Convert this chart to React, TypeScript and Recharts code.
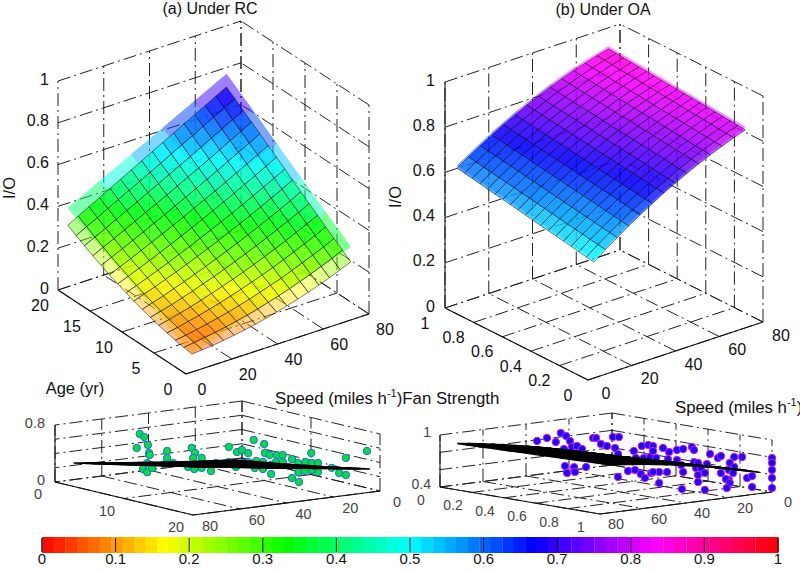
import React from 'react';
import { ScatterChart, Scatter, XAxis, YAxis, BarChart, Bar, Cell, ReferenceLine, ReferenceArea } from 'recharts';

// surface (a): speed / age grid, I/O
const speedA = [2.6, 7.2, 11.9, 16.5, 21.1, 25.7, 30.4, 35, 39.6, 44.2, 48.9, 53.5, 58.1, 62.7, 67.4, 72];
const ageA = [0, 1.3, 2.6, 3.9, 5.2, 6.5, 7.8, 9.1, 10.3, 11.6, 12.9, 14.2, 15.5, 16.8, 18.1, 19.4];
const ioA = [
    [.086, .090, .095, .102, .110, .119, .129, .141, .154, .168, .183, .199, .217, .236, .257, .278],
    [.092, .099, .106, .115, .124, .135, .147, .160, .175, .190, .207, .225, .244, .264, .285, .308],
    [.100, .108, .118, .128, .140, .152, .166, .181, .197, .214, .231, .251, .271, .292, .314, .338],
    [.109, .119, .131, .143, .156, .170, .186, .202, .219, .237, .256, .277, .298, .320, .343, .367],
    [.119, .131, .144, .158, .173, .189, .206, .223, .242, .261, .282, .303, .325, .348, .372, .397],
    [.131, .145, .159, .175, .191, .209, .227, .246, .266, .286, .308, .330, .353, .377, .401, .427],
    [.143, .159, .175, .193, .210, .229, .249, .269, .290, .311, .334, .357, .381, .405, .431, .457],
    [.157, .175, .192, .211, .230, .250, .271, .292, .314, .337, .360, .384, .409, .434, .460, .487],
    [.172, .191, .211, .231, .251, .273, .294, .317, .340, .363, .387, .412, .437, .463, .489, .516],
    [.189, .209, .230, .251, .273, .295, .318, .342, .365, .390, .415, .440, .466, .492, .519, .546],
    [.206, .228, .250, .273, .296, .319, .343, .367, .392, .417, .442, .468, .495, .521, .548, .576],
    [.225, .248, .272, .295, .319, .344, .368, .394, .419, .445, .471, .497, .524, .551, .578, .606],
    [.245, .270, .294, .319, .344, .369, .395, .420, .446, .473, .499, .526, .553, .580, .608, .636],
    [.267, .292, .317, .343, .369, .395, .422, .448, .475, .501, .528, .555, .583, .610, .638, .665],
    [.289, .316, .342, .369, .396, .423, .449, .476, .503, .531, .558, .585, .613, .640, .668, .695],
    [.313, .340, .368, .395, .423, .450, .478, .505, .533, .560, .588, .615, .643, .670, .698, .725],
];

// the lighter unmeshed sheet lying just above (a)
const speedUpperA = [2.6, 16.5, 30.4, 44.2, 58.1, 72];
const ageUpperA = [0, 3.9, 7.8, 11.6, 15.5, 19.4];
const ioUpperA = [
    [.086, .139, .192, .244, .297, .350],
    [.148, .206, .264, .322, .379, .437],
    [.210, .273, .336, .399, .462, .525],
    [.271, .340, .408, .476, .544, .612],
    [.333, .407, .480, .553, .626, .700],
    [.395, .474, .552, .630, .709, .787],
];

// surface (b): one row per speed, one column per fan strength
const speedB = [2.7, 8, 13.4, 18.7, 24, 29.4, 34.7, 40, 45.3, 50.7, 56, 61.3, 66.7, 72];
const fanB = [0, .053, .106, .16, .213, .266, .319, .373, .426, .479, .532, .585, .639, .692, .745, .798, .852, .905, .958];
const ioB = [
    [.513, .519, .525, .532, .538, .544, .550, .556, .562, .569, .575, .581, .587, .593, .599, .606, .612, .618, .624],
    [.551, .557, .563, .569, .575, .580, .586, .592, .598, .604, .610, .616, .622, .628, .633, .639, .645, .651, .657],
    [.587, .593, .598, .604, .610, .615, .621, .627, .632, .638, .644, .649, .655, .661, .666, .672, .678, .683, .689],
    [.622, .627, .633, .638, .644, .649, .654, .660, .665, .671, .676, .681, .687, .692, .698, .703, .708, .714, .719],
    [.655, .660, .665, .671, .676, .681, .686, .691, .696, .702, .707, .712, .717, .722, .727, .733, .738, .743, .748],
    [.686, .691, .696, .701, .706, .710, .715, .720, .725, .730, .735, .740, .745, .750, .754, .759, .764, .769, .774],
    [.716, .721, .725, .730, .735, .739, .744, .749, .753, .758, .763, .767, .772, .777, .781, .786, .791, .795, .800],
    [.743, .747, .752, .756, .761, .765, .770, .774, .778, .783, .787, .792, .796, .801, .805, .810, .814, .819, .823],
    [.769, .773, .777, .782, .786, .790, .794, .799, .803, .807, .811, .815, .820, .824, .828, .832, .837, .841, .845],
    [.794, .798, .802, .806, .810, .814, .818, .822, .826, .830, .833, .837, .841, .845, .849, .853, .857, .861, .865],
    [.817, .821, .824, .828, .832, .836, .839, .843, .847, .850, .854, .858, .862, .865, .869, .873, .877, .880, .884],
    [.838, .841, .845, .848, .852, .855, .859, .862, .865, .869, .872, .876, .879, .883, .886, .890, .893, .897, .900],
    [.858, .861, .864, .868, .871, .874, .877, .881, .884, .887, .890, .893, .897, .900, .903, .906, .910, .913, .916],
    [.876, .879, .882, .885, .888, .891, .894, .897, .900, .902, .905, .908, .911, .914, .917, .920, .923, .926, .929],
];

// thin fringe sheet above (b)
const speedUpperB = [2.7, 18.7, 29.4, 45.3, 56, 72];
const fanUpperB = [0, .479, .958];
const ioUpperB = [
    [.525, .581, .636],
    [.634, .683, .731],
    [.698, .742, .786],
    [.781, .819, .857],
    [.829, .862, .896],
    [.888, .914, .941],
];

// measured points [speed, age, I/O]
const pointsRC = [
    [59.1, 5.2, .707], [58.1, 5.5, .667], [59.8, 5, .509], [57.1, 5.7, .556], [56.9, 5.8, .444], [56.6, 5.8, .415],
    [52.4, 6.9, .479], [52.4, 6.9, .38], [57.4, 5.7, .302], [58.3, 5.4, .216], [57.4, 5.7, .175], [56.1, 6, .234],
    [53, 6.8, .295], [51, 7.3, .313], [46.3, 8.4, .531], [45.5, 8.6, .462], [46, 8.5, .39], [43.8, 9, .394],
    [45.8, 8.6, .237], [43.8, 9, .254], [47.3, 8.2, .262], [41.6, 9.6, .215], [40.4, 9.9, .33], [37.2, 10.7, .559],
    [35.2, 11.2, .491], [34, 11.5, .522], [32.5, 11.9, .481], [37.2, 10.7, .348], [35.4, 11.1, .281], [32.5, 11.9, .355],
    [33.8, 11.6, .34], [31, 12.2, .667], [28.6, 12.9, .615], [28.3, 12.9, .488], [27.1, 13.2, .463], [25.4, 13.7, .465],
    [23.9, 14, .467], [30.5, 12.4, .373], [28.8, 12.8, .362], [25.6, 13.6, .366], [23.9, 14, .369], [21.7, 14.6, .415],
    [17, 15.8, .507], [18.2, 15.4, .378], [16.7, 15.8, .366], [15.3, 16.2, .369], [8.4, 17.9, .451], [3.2, 19.2, .556],
    [30.8, 12.3, .274], [28.8, 12.8, .264], [26.8, 13.3, .323], [26.8, 13.3, .196], [21.7, 14.6, .149], [19.9, 15, .095],
    [20.2, 15, .234], [18.5, 15.4, .251], [15.3, 16.2, .243], [11.8, 17, .305], [10.1, 17.5, .237], [8.4, 17.9, .212],
    [20.2, 15, .361], [16.7, 15.8, .268],
];

// measured points [speed, fan strength, I/O]
const pointsOA = [
    [56.6, .292, .948], [54.2, .322, .984], [52.1, .349, .939], [50.9, .364, 1.044], [49.6, .38, 1.01], [48.7, .392, .953],
    [50.1, .373, .86], [48.2, .398, .885], [47, .413, .897], [45.8, .428, .863], [43.1, .461, .992], [42.4, .47, .993],
    [41.2, .485, .924], [39.8, .503, .902], [38.3, .521, 1.007], [36.9, .539, 1.008], [37.8, .527, .88], [37.1, .536, .812],
    [33.3, .584, .849], [31.4, .608, .908], [29.8, .627, .92], [28.7, .642, .91], [32.8, .59, .769], [30.9, .614, .77],
    [29.4, .633, .783], [49.9, .377, .664], [47.7, .404, .653], [49.4, .383, .583], [47.5, .407, .596], [44.8, .44, .656],
    [37.1, .536, .547], [41.7, .479, .774], [34.7, .566, .617], [33, .587, .63], [31.6, .605, .585], [30.6, .617, .54],
    [29.1, .636, .598], [28.7, .642, .852], [26.3, .672, .889], [24.8, .69, .844], [22.9, .714, .869], [21.4, .732, .881],
    [19.3, .759, .905], [18.8, .765, .871], [14.9, .813, .828], [13, .837, .783], [12.3, .846, .806], [9.1, .886, .797],
    [7.2, .91, .799], [25.1, .687, .762], [22.9, .714, .753], [27.9, .651, .773], [21.9, .726, .695], [21.4, .732, .616],
    [25.3, .684, .612], [27.2, .66, .611], [28.7, .642, .61], [18.8, .765, .732], [17.8, .777, .722], [15.7, .804, .712],
    [18.3, .771, .664], [17.1, .786, .664], [16.2, .798, .608], [17.8, .777, .583], [17.8, .777, .503], [10.2, .873, .728],
    [9.1, .886, .682], [10.4, .87, .647], [12.3, .846, .61], [9.4, .883, .612], [10.4, .87, .532], [11.1, .861, .542],
    [10.2, .873, .497], [6, .925, .557], [4.8, .94, .581], [0, 1, .792], [0, 1, .735], [0, 1, .654], [0, 1, .562], [0, 1, .446],
    [27.2, .66, .484], [21.7, .729, .418], [16.2, .798, .412], [10.9, .864, .438], [4.8, .94, .454],
];

const speedTicks = [0, 20, 40, 60, 80];
const ageTicks = [0, 5, 10, 15, 20];
const ageTicksSide = [0, 10, 20];
const fanTicks = [0, 0.2, 0.4, 0.6, 0.8, 1];
const ioTicks = [0, 0.2, 0.4, 0.6, 0.8, 1];
const ioTicksRC = [0, 0.2, 0.4, 0.6, 0.8];
const ioTicksOA = [0.4, 0.6, 0.8, 1];
const barLevels = [
    .008, .023, .039, .055, .070, .086, .102, .117, .133, .148, .164, .180, .195, .211, .227, .242,
    .258, .273, .289, .305, .320, .336, .352, .367, .383, .398, .414, .430, .445, .461, .477, .492,
    .508, .523, .539, .555, .570, .586, .602, .617, .633, .648, .664, .680, .695, .711, .727, .742,
    .758, .773, .789, .805, .820, .836, .852, .867, .883, .898, .914, .930, .945, .961, .977, .992,
];
const barTicks = [0, 0.1, 0.2, 0.3, 0.4, 0.5, 0.6, 0.7, 0.8, 0.9, 1];

const FONT = '"Liberation Sans", Arial, sans-serif';
const hsv = (v: number) => `hsl(${Math.max(0, Math.min(1, v)) * 360},100%,50%)`;

// the views, oblique projections fitted to the box corners
const boxA = { ox: 186, oy: 374, sx: 183, sy: -60, ax: -128, ay: -84, zy: -209, aMax: 20, zMin: 0, zMax: 1, sWall: 80, aWall: 20, sFront: 0, aFront: 0 };
const boxB = { ox: 588, oy: 380, sx: 175, sy: -58, ax: -143, ay: -72, zy: -226, aMax: 1, zMin: 0, zMax: 1, sWall: 80, aWall: 1, sFront: 0, aFront: 0 };
const boxC = { ox: 242, oy: 458, sx: -187, sy: 24, ax: 138, ay: 33, zy: -57, aMax: 20, zMin: 0, zMax: 0.8, sWall: 0, aWall: 0, sFront: 80, aFront: 20 };
const boxD = { ox: 612, oy: 465, sx: -172, sy: 22, ax: 160, ay: 27, zy: -52, aMax: 1, zMin: 0.4, zMax: 1, sWall: 0, aWall: 0, sFront: 80, aFront: 1 };
// the surface sits flatter than the box in the side view of (a)
const boxCSurface = { ...boxC, oy: 461.7, sy: 8.5, ay: 14.6, zy: -18.2 };

const project = (b: any, s: number, a: number, z: number) => ({
    x: b.ox + (s / 80) * b.sx + (a / b.aMax) * b.ax,
    y: b.oy + (s / 80) * b.sy + (a / b.aMax) * b.ay + ((z - b.zMin) / (b.zMax - b.zMin)) * b.zy,
});

const noShape = () => null;

// pairs of points become separate line pieces
const segmentLayer = (key: string, segs: any[], style: any) => (
    <Scatter
        key={key}
        data={segs}
        isAnimationActive={false}
        shape={noShape}
        line={(p: any) => {
            let d = '';
            for (let i = 0; i + 1 < p.points.length; i += 2) {
                d += `M${p.points[i].x},${p.points[i].y}L${p.points[i + 1].x},${p.points[i + 1].y}`;
            }
            return <path key={key} d={d} fill="none" {...style} />;
        }}
    />
);

const boxLayers = (key: string, b: any, sT: number[], aT: number[], zT: number[], solidZ: boolean) => {
    const P = (s: number, a: number, z: number) => project(b, s, a, z);
    const grid: any[] = [];
    const solid: any[] = [];
    sT.forEach(s => {
        grid.push(P(s, 0, b.zMin), P(s, b.aMax, b.zMin));
        grid.push(P(s, b.aWall, b.zMin), P(s, b.aWall, b.zMax));
    });
    aT.forEach(a => {
        grid.push(P(0, a, b.zMin), P(80, a, b.zMin));
        grid.push(P(b.sWall, a, b.zMin), P(b.sWall, a, b.zMax));
    });
    zT.forEach(z => {
        grid.push(P(0, b.aWall, z), P(80, b.aWall, z));
        grid.push(P(b.sWall, 0, z), P(b.sWall, b.aMax, z));
    });
    solid.push(P(0, b.aFront, b.zMin), P(80, b.aFront, b.zMin));
    solid.push(P(b.sFront, 0, b.zMin), P(b.sFront, b.aMax, b.zMin));
    if (solidZ) solid.push(P(b.sFront, b.aWall, b.zMin), P(b.sFront, b.aWall, b.zMax));
    return [
        segmentLayer(key + '-grid', grid, { stroke: '#222', strokeWidth: 1, strokeDasharray: '13 4 2 4' }),
        segmentLayer(key + '-solid', solid, { stroke: '#111', strokeWidth: 1.1 }),
    ];
};

const surfaceLayer = (key: string, b: any, speeds: number[], ages: number[], io: (j: number, i: number) => number, look: any) => {
    const data = ages.flatMap((a, j) => speeds.map((s, i) => project(b, s, a, io(j, i))));
    const nc = speeds.length;
    const gain = look.gain ?? 1;
    const shift = look.shift ?? 0;
    return (
        <Scatter
            key={key}
            data={data}
            isAnimationActive={false}
            shape={noShape}
            line={(p: any) => {
                const cells = [];
                for (let j = 0; j + 1 < ages.length; j++) {
                    for (let i = 0; i + 1 < nc; i++) {
                        const c = [j * nc + i, j * nc + i + 1, (j + 1) * nc + i + 1, (j + 1) * nc + i].map(k => p.points[k]);
                        const v = (io(j, i) + io(j, i + 1) + io(j + 1, i) + io(j + 1, i + 1)) / 4;
                        const colour = hsv(v * gain + shift);
                        const edge = i === 0 || j === 0;
                        cells.push(
                            <polygon
                                key={`${j}-${i}`}
                                points={c.map(q => `${q.x},${q.y}`).join(' ')}
                                fill={colour}
                                fillOpacity={edge ? look.edgeOpacity : look.opacity}
                                stroke={look.stroke ?? colour}
                                strokeOpacity={look.stroke ? look.strokeOpacity : look.opacity}
                                strokeWidth={look.strokeWidth}
                            />
                        );
                    }
                }
                return <g key={key}>{cells}</g>;
            }}
        />
    );
};

const dotLayer = (key: string, b: any, pts: number[][], fill: string, stroke: string) => (
    <Scatter
        key={key}
        data={pts.map(([s, a, z]) => project(b, s, a, z))}
        isAnimationActive={false}
        shape={(p: any) => <circle cx={p.cx} cy={p.cy} r={3.7} fill={fill} stroke={stroke} strokeWidth={1} />}
    />
);

const textShape = (p: any) => {
    const t = p.payload;
    return (
        <text
            x={p.cx}
            y={p.cy}
            textAnchor={t.anchor ?? 'middle'}
            dominantBaseline="central"
            fontFamily={FONT}
            fontSize={t.size ?? 16}
            fill={t.fill ?? '#111'}
            transform={t.rotate ? `rotate(${t.rotate} ${p.cx} ${p.cy})` : undefined}
        >
            {t.text}
            {t.sup ? <tspan fontSize={11} dy={-5}>{t.sup}</tspan> : null}
            {t.after ? <tspan dy={5}>{t.after}</tspan> : null}
        </text>
    );
};

const textLayer = (key: string, items: any[]) => (
    <Scatter key={key} data={items} isAnimationActive={false} shape={textShape} />
);

const zLabels = (b: any, vals: number[], x: number, dy: number, fill: string, size: number) =>
    vals.map(z => ({ x, y: project(b, b.sFront, b.aWall, z).y + dy, text: String(z), anchor: 'end', fill, size }));
const sLabels = (b: any, vals: number[], dx: number, dy: number, fill: string, size: number) =>
    vals.map(s => {
        const q = project(b, s, b.aFront, b.zMin);
        return { x: q.x + dx, y: q.y + dy, text: String(s), fill, size };
    });
const aLabels = (b: any, vals: number[], dx: number, dy: number, fill: string, size: number) =>
    vals.map(a => {
        const q = project(b, b.sFront, a, b.zMin);
        return { x: q.x + dx, y: q.y + dy, text: String(a), fill, size };
    });

const titles = [
    { x: 210, y: 8, text: '(a) Under RC' },
    { x: 603, y: 9, text: '(b) Under OA' },
    { x: 9, y: 188, text: 'I/O', rotate: -90, size: 16.5 },
    { x: 395, y: 197, text: 'I/O', rotate: -90, size: 16.5 },
    { x: 75, y: 388, text: 'Age (yr)', size: 16.5 },
    { x: 275, y: 398, text: 'Speed (miles h', anchor: 'start', sup: '-1', after: ')Fan Strength', size: 16.8 },
    { x: 675, y: 407, text: 'Speed (miles h', anchor: 'start', sup: '-1', after: ')', size: 16.8 },
];

const grey = '#444';
const meshLookA = { opacity: 0.78, edgeOpacity: 0.45, stroke: '#000', strokeOpacity: 0.6, strokeWidth: 0.8, gain: 1.02, shift: -0.038 };
const meshLookB = { opacity: 0.8, edgeOpacity: 0.68, stroke: '#000', strokeOpacity: 0.55, strokeWidth: 0.8, gain: 0.915, shift: 0.01 };
const sheetLookA = { opacity: 0.5, edgeOpacity: 0.5, strokeWidth: 0.3 };
const sheetLookB = { opacity: 0.45, edgeOpacity: 0.45, strokeWidth: 0.3, gain: 0.915, shift: 0.01 };
const bandLook = { opacity: 1, edgeOpacity: 1, stroke: '#000', strokeOpacity: 1, strokeWidth: 1.6 };

const App: React.FC = () => (
    <div style={{ position: 'absolute', left: 0, top: 0, width: 800, height: 571, background: '#fff', overflow: 'hidden' }}>
        <div style={{ position: 'absolute', left: 0, top: 0 }}>
            <BarChart width={800} height={571} data={barLevels.map(level => ({ level, full: 1 }))} margin={{ top: 538, left: 42, right: 22, bottom: 0 }}>
                <XAxis
                    type="number"
                    dataKey="level"
                    domain={[0, 1]}
                    ticks={barTicks}
                    interval={0}
                    axisLine={false}
                    tickLine={false}
                    tickSize={0}
                    tickMargin={1}
                    height={19}
                    tick={{ fill: '#111', fontSize: 15, fontFamily: FONT }}
                />
                <YAxis hide domain={[0, 1]} />
                <Bar dataKey="full" barSize={12} isAnimationActive={false}>
                    {barLevels.map(level => <Cell key={level} fill={hsv(level)} stroke={hsv(level)} strokeWidth={2} />)}
                </Bar>
                <ReferenceArea x1={0} x2={1} y1={0} y2={1} fill="none" stroke="#222" strokeWidth={1} />
                {barTicks.map(t => <ReferenceLine key={t} x={t} stroke="#111" strokeWidth={1} />)}
            </BarChart>
        </div>
        <div style={{ position: 'absolute', left: 0, top: 0 }}>
            <ScatterChart width={800} height={571} margin={{ top: 0, right: 0, bottom: 0, left: 0 }}>
                <XAxis hide type="number" dataKey="x" domain={[0, 800]} allowDataOverflow />
                <YAxis hide type="number" dataKey="y" domain={[0, 571]} reversed allowDataOverflow />

                {boxLayers('a', boxA, speedTicks, ageTicks, ioTicks, false)}
                {surfaceLayer('a-sheet', boxA, speedUpperA, ageUpperA, (j, i) => ioUpperA[j][i], sheetLookA)}
                {surfaceLayer('a-mesh', boxA, speedA, ageA, (j, i) => ioA[j][i], meshLookA)}
                {textLayer('a-z', zLabels(boxA, ioTicks, 49, -2, '#111', 16))}
                {textLayer('a-s', sLabels(boxA, speedTicks, 16, 15, '#111', 16))}
                {textLayer('a-a', aLabels(boxA, ageTicks, -18, 15, '#111', 16))}

                {boxLayers('b', boxB, speedTicks, fanTicks, ioTicks, true)}
                {surfaceLayer('b-sheet', boxB, speedUpperB, fanUpperB, (j, i) => ioUpperB[i][j], sheetLookB)}
                {surfaceLayer('b-mesh', boxB, speedB, fanB, (j, i) => ioB[i][j], meshLookB)}
                {textLayer('b-z', zLabels(boxB, ioTicks, 435, -2, '#111', 16))}
                {textLayer('b-s', sLabels(boxB, speedTicks, 18, 13, '#111', 16))}
                {textLayer('b-a', aLabels(boxB, fanTicks, -20, 15, '#111', 16))}

                {boxLayers('c', boxC, speedTicks, ageTicksSide, ioTicksRC, true)}
                {dotLayer('c-dots', boxC, pointsRC, '#06dc44', '#1c6fd8')}
                {surfaceLayer('c-mesh', boxCSurface, speedA, ageA, (j, i) => ioA[j][i], bandLook)}
                {textLayer('c-z', zLabels(boxC, [0, 0.8], 45, -2, grey, 14.5))}
                {textLayer('c-s', sLabels(boxC, speedTicks, 17, 11, grey, 14.5))}
                {textLayer('c-a', aLabels(boxC, ageTicksSide, -17, 12, grey, 14.5))}

                {boxLayers('d', boxD, speedTicks, fanTicks, ioTicksOA, true)}
                {dotLayer('d-dots', boxD, pointsOA, '#2200f0', '#c020ff')}
                {surfaceLayer('d-mesh', boxD, speedB, fanB, (j, i) => ioB[i][j], bandLook)}
                {textLayer('d-z', zLabels(boxD, [0.4, 1], 431, -3, grey, 14))}
                {textLayer('d-s', sLabels(boxD, speedTicks, 16, 10, grey, 14.5))}
                {textLayer('d-a', aLabels(boxD, fanTicks, -19, 13, grey, 14))}

                {textLayer('titles', titles)}
            </ScatterChart>
        </div>
    </div>
);

export default App;
